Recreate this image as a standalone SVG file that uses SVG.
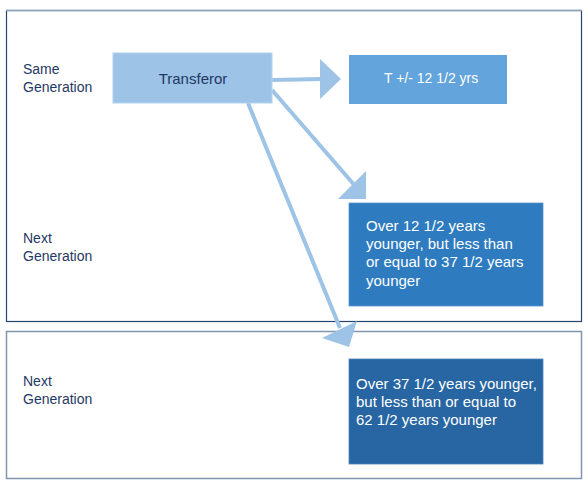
<svg xmlns="http://www.w3.org/2000/svg" width="588" height="488" viewBox="0 0 588 488">
<style>
.lbl{font-family:"Liberation Sans",Arial,sans-serif;font-size:14px;fill:#1f3864}
.wt{font-family:"Liberation Sans",Arial,sans-serif;font-size:15px;fill:#ffffff}
.conn line{stroke:#9dc3e6;stroke-width:4}
.conn polygon{fill:#9dc3e6}
</style>
<rect width="588" height="488" fill="#ffffff"/>
<g id="frame-upper">
<rect x="6.5" y="10.5" width="575" height="311" fill="none" stroke="#24456e" stroke-width="1.2"/>
<line x1="6" y1="10.5" x2="582" y2="10.5" stroke="#8aa2b8" stroke-width="1.5"/>
<text class="lbl" x="23" y="74">Same</text>
<text class="lbl" x="23" y="92">Generation</text>
<text class="lbl" x="23" y="243">Next</text>
<text class="lbl" x="23" y="261">Generation</text>
</g>
<g id="frame-lower">
<rect x="6.5" y="331.5" width="575" height="147" fill="none" stroke="#7f96ae" stroke-width="1.5"/>
<text class="lbl" x="23" y="386">Next</text>
<text class="lbl" x="23" y="404">Generation</text>
</g>
<g id="connectors" class="conn">
<line x1="272" y1="80" x2="322" y2="79"/>
<polygon points="320,59 320,99 341,79"/>
<line x1="272" y1="90" x2="356" y2="187"/>
<polygon points="366,171 366,199 338,199"/>
<line x1="248" y1="103" x2="340" y2="328"/>
<polygon points="357,321 322,338 349,347"/>
</g>
<g id="node-transferor">
<rect x="113" y="53" width="159" height="50" fill="#9dc3e6" stroke="#b4d2ee" stroke-width="1"/>
<text x="193" y="84" text-anchor="middle" style="font-family:'Liberation Sans',Arial,sans-serif;font-size:15px;fill:#1f3864">Transferor</text>
</g>
<g id="node-same">
<rect x="349" y="55" width="158" height="49" fill="#62a4db"/>
<text class="wt" x="384" y="83" style="font-size:14px">T +/- 12 1/2 yrs</text>
</g>
<g id="node-next1">
<rect x="349" y="203" width="194" height="103" fill="#2e7bbf" stroke="#5a97cf" stroke-width="0.8"/>
<text class="wt" x="366" y="231">Over 12 1/2 years</text>
<text class="wt" x="366" y="249">younger, but less than</text>
<text class="wt" x="366" y="267">or equal to 37 1/2 years</text>
<text class="wt" x="366" y="286">younger</text>
</g>
<g id="node-next2">
<rect x="349" y="359" width="194" height="105" fill="#2766a2" stroke="#4f83b8" stroke-width="0.8"/>
<text class="wt" x="356" y="389">Over 37 1/2 years younger,</text>
<text class="wt" x="356" y="407">but less than or equal to</text>
<text class="wt" x="356" y="425">62 1/2 years younger</text>
</g>
</svg>
